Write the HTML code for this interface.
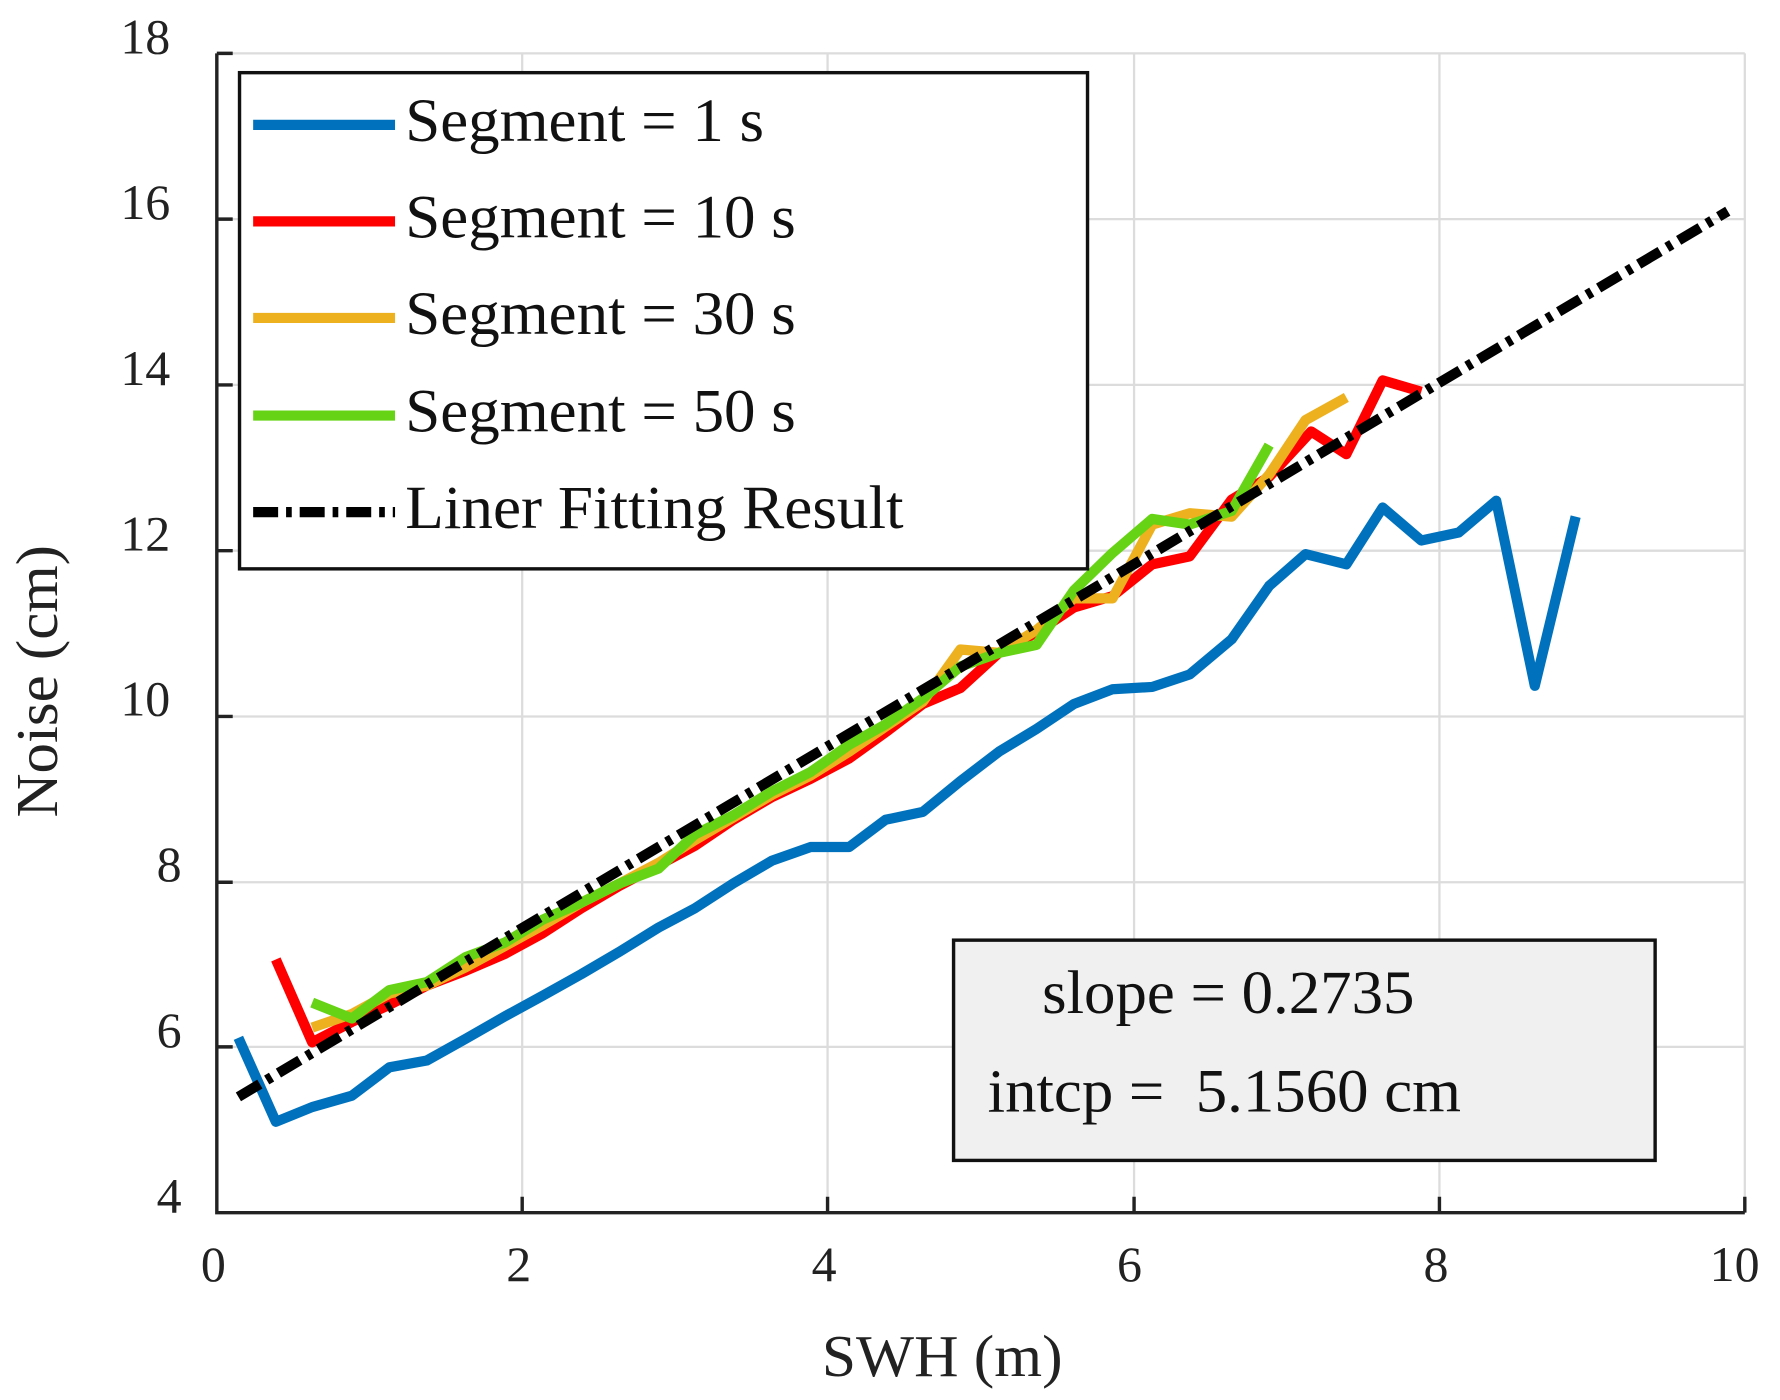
<!DOCTYPE html>
<html><head><style>html,body{margin:0;padding:0;background:#fff}svg{display:block}</style></head>
<body>
<svg width="1780" height="1400" viewBox="0 0 1568 1233" preserveAspectRatio="none" xmlns="http://www.w3.org/2000/svg" font-family="Liberation Serif, serif">
<g stroke="#dcdcdc" stroke-width="2">
<line x1="460" y1="47" x2="460" y2="1068"/><line x1="729" y1="47" x2="729" y2="1068"/><line x1="999" y1="47" x2="999" y2="1068"/><line x1="1268" y1="47" x2="1268" y2="1068"/><line x1="1537" y1="47" x2="1537" y2="1068"/>
<line x1="191" y1="47" x2="1537" y2="47"/><line x1="191" y1="193" x2="1537" y2="193"/><line x1="191" y1="339" x2="1537" y2="339"/><line x1="191" y1="485" x2="1537" y2="485"/><line x1="191" y1="631" x2="1537" y2="631"/><line x1="191" y1="777" x2="1537" y2="777"/><line x1="191" y1="922" x2="1537" y2="922"/>
</g>
<g stroke="#222" stroke-width="3" fill="none">
<path d="M191,47 V1068 H1537"/>
<path d="M460,1068 v-14 M729,1068 v-14 M999,1068 v-14 M1268,1068 v-14 M1537,1068 v-14 M191,193 h14 M191,339 h14 M191,485 h14 M191,631 h14 M191,777 h14 M191,922 h14 M191,47 h14"/>
</g>
<g font-size="44" fill="#222" text-anchor="middle">
<text x="188" y="1128">0</text><text x="457" y="1128">2</text><text x="726" y="1128">4</text><text x="995" y="1128">6</text><text x="1265" y="1128">8</text><text x="1528" y="1128" textLength="44" lengthAdjust="spacingAndGlyphs">10</text>
</g>
<g font-size="44" fill="#222" text-anchor="end">
<text x="160" y="1068">4</text><text x="160" y="922">6</text><text x="160" y="776">8</text><text x="150" y="630" textLength="44" lengthAdjust="spacingAndGlyphs">10</text><text x="150" y="485" textLength="44" lengthAdjust="spacingAndGlyphs">12</text><text x="150" y="339" textLength="44" lengthAdjust="spacingAndGlyphs">14</text><text x="150" y="193" textLength="44" lengthAdjust="spacingAndGlyphs">16</text><text x="150" y="47" textLength="44" lengthAdjust="spacingAndGlyphs">18</text>
</g>
<text x="724" y="1212" font-size="52" fill="#222" textLength="212" lengthAdjust="spacingAndGlyphs">SWH (m)</text>
<text transform="translate(50,720) rotate(-90)" font-size="52" fill="#222" textLength="240" lengthAdjust="spacingAndGlyphs">Noise (cm)</text>
<g fill="none" stroke-width="9" stroke-linejoin="round">
<polyline stroke="#0072bd" points="210,914 243,988 275,975 310,965 343,940 376,934 410,915 445,895 478,877 512,858 546,838 580,817 612,800 646,778 680,758 714,746 748,746 780,722 813,715 846,688 880,662 913,642 946,620 980,607 1015,605 1048,594 1085,563 1118,516 1150,488 1186,497 1218,447 1252,476 1285,469 1318,441 1352,604 1388,455"/>
<polyline stroke="#ff0000" points="243,845 275,918 310,900 343,885 376,868 410,855 445,840 478,822 512,800 546,780 580,762 612,745 646,722 680,702 714,686 748,668 780,645 813,620 846,606 880,575 913,557 946,535 980,525 1015,497 1048,490 1085,440 1118,420 1155,380 1186,400 1218,335 1252,345"/>
<polyline stroke="#edb120" points="275,905 310,893 343,875 376,868 410,852 445,833 478,815 512,795 546,778 580,760 612,740 646,720 680,700 714,683 748,662 780,640 813,618 846,572 880,575 913,555 946,527 980,527 1015,462 1048,452 1085,455 1118,418 1150,370 1186,350"/>
<polyline stroke="#66d314" points="275,883 310,897 343,872 376,865 410,843 445,830 478,810 512,795 546,778 580,765 612,735 646,718 680,697 714,680 748,656 780,638 813,615 846,587 880,575 913,568 946,520 980,487 1015,457 1048,462 1085,450 1118,392"/>
<line x1="210" y1="966" x2="1522" y2="186" stroke="#000" stroke-dasharray="22,7,5,7"/>
</g>
<rect x="211" y="64" width="747" height="437" fill="#fff" stroke="#111" stroke-width="3"/>
<g stroke-width="9">
<line x1="223" y1="110" x2="348" y2="110" stroke="#0072bd"/>
<line x1="223" y1="195" x2="348" y2="195" stroke="#ff0000"/>
<line x1="223" y1="280" x2="348" y2="280" stroke="#edb120"/>
<line x1="223" y1="366" x2="348" y2="366" stroke="#66d314"/>
<line x1="223" y1="451" x2="348" y2="451" stroke="#000" stroke-dasharray="22,7,5,7"/>
</g>
<g font-size="54" fill="#111">
<text x="357" y="124" textLength="316" lengthAdjust="spacingAndGlyphs">Segment = 1 s</text>
<text x="357" y="209" textLength="344" lengthAdjust="spacingAndGlyphs">Segment = 10 s</text>
<text x="357" y="294" textLength="344" lengthAdjust="spacingAndGlyphs">Segment = 30 s</text>
<text x="357" y="380" textLength="344" lengthAdjust="spacingAndGlyphs">Segment = 50 s</text>
<text x="357" y="465" textLength="439" lengthAdjust="spacingAndGlyphs">Liner Fitting Result</text>
</g>
<rect x="840" y="828" width="618" height="194" fill="#f0f0f0" stroke="#111" stroke-width="3"/>
<g font-size="54" fill="#111">
<text x="918" y="892" textLength="328" lengthAdjust="spacingAndGlyphs">slope = 0.2735</text>
<text x="870" y="979" xml:space="preserve" textLength="417" lengthAdjust="spacingAndGlyphs">intcp =  5.1560 cm</text>
</g>
</svg>
</body></html>
